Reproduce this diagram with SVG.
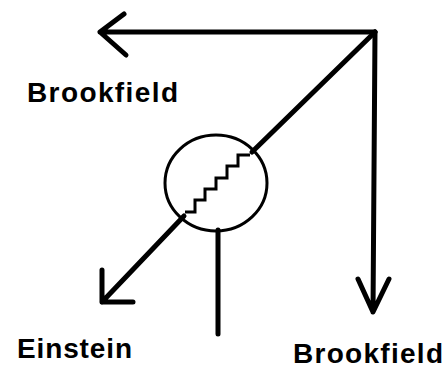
<svg xmlns="http://www.w3.org/2000/svg" width="447" height="369" viewBox="0 0 447 369">
<style>
.ln{fill:none;stroke:#000;stroke-width:5;stroke-linecap:round;stroke-linejoin:round}
.thin{fill:none;stroke:#000;stroke-width:3;stroke-linejoin:miter}
.lbl{font-family:"Liberation Sans",Arial,sans-serif;font-weight:bold;font-size:28px;fill:#000}
</style>
<rect width="447" height="369" fill="#fff"/>
<g id="connectors">
<path class="ln" d="M375,32 L100,32 M124,14 L100,32 L126,55"/>
<path class="ln" d="M375,32 L373,312 M358,279 L373,312 L389,279"/>
<path class="ln" d="M375,32 L252,152"/>
<path class="ln" d="M184,216 L102,302 M102,270 L102,302 L133,302"/>
<path class="ln" d="M218,230 L218,334"/>
</g>
<g id="resistor">
<ellipse class="thin" cx="216" cy="183" rx="51" ry="48"/>
<path class="thin" d="M185,212 H195 V200 H205 V189 H216 V178 H227 V166 H238 V155 H250"/>
</g>
<g id="label-brookfield-top"><text class="lbl" x="27" y="102" textLength="151" lengthAdjust="spacing">Brookfield</text></g>
<g id="label-einstein"><text class="lbl" x="17" y="358" textLength="115" lengthAdjust="spacing">Einstein</text></g>
<g id="label-brookfield-bottom"><text class="lbl" x="293" y="363" textLength="150" lengthAdjust="spacing">Brookfield</text></g>
</svg>
